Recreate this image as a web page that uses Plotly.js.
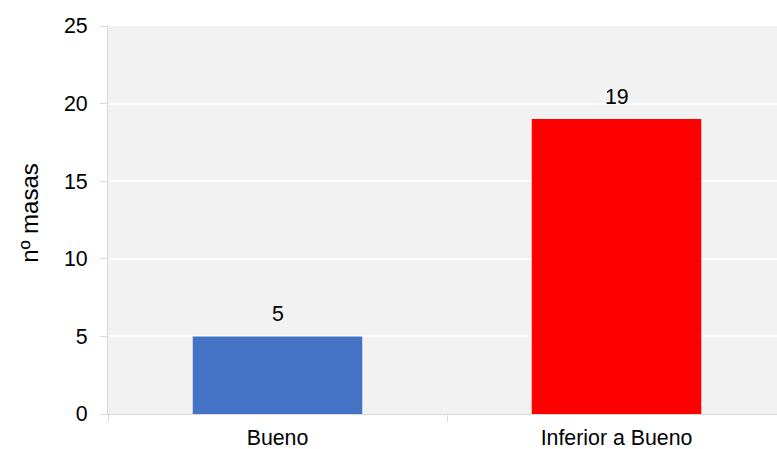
<!DOCTYPE html>
<html><head><meta charset="utf-8">
<script src="https://cdn.plot.ly/plotly-3.0.1.min.js"></script>
<style>html,body{margin:0;padding:0;background:#fff;overflow:hidden}</style>
</head><body>
<div style="width:777px;height:449px;overflow:hidden">
<div id="chart" style="width:786px;height:449px"></div>
</div>
<script>
const categories = ["Bueno", "Inferior a Bueno"];
const values = [5, 19];
const barColors = ["#4472C4", "#FF0000"];
const yTicks = [0, 5, 10, 15, 20, 25];
const yTitle = "nº masas";

const FONT = "Liberation Sans, Arial, sans-serif";

const trace = {
  type: "bar",
  x: categories,
  y: values,
  marker: {color: barColors},
  width: 0.5,
  hoverinfo: "none"
};

const annotations = categories.map((c, i) => ({
  x: c, y: values[i], xref: "x", yref: "y",
  text: String(values[i]), showarrow: false,
  yanchor: "bottom", yshift: 8,
  font: {family: FONT, size: 21.33, color: "#000"}
}));

annotations.push({
  xref: "paper", yref: "paper", x: -0.117, y: 0.5,
  xanchor: "center", yanchor: "middle", yshift: 7,
  text: yTitle, textangle: -90, showarrow: false,
  font: {family: FONT, size: 24, color: "#000"}
});

const layout = {
  width: 786, height: 449,
  margin: {l: 107.5, r: 0, t: 25.5, b: 35},
  paper_bgcolor: "#ffffff",
  plot_bgcolor: "#f2f2f2",
  showlegend: false,
  font: {family: FONT, size: 21.33, color: "#000"},
  xaxis: {
    type: "category",
    showline: true, linecolor: "#d9d9d9", linewidth: 1,
    ticks: "outside", tickson: "boundaries", ticklen: 7, tickcolor: "#d9d9d9",
    showgrid: false,
    tickfont: {size: 21.33},
    ticklabelstandoff: 4
  },
  yaxis: {
    range: [0, 25],
    tickvals: yTicks,
    showline: true, linecolor: "#d9d9d9", linewidth: 1,
    ticks: "outside", ticklen: 7, tickcolor: "#d9d9d9",
    showgrid: true, gridcolor: "#ffffff", gridwidth: 2,
    zeroline: false,
    tickfont: {size: 21.33},
    ticklabelstandoff: 8
  },
  annotations: annotations
};

Plotly.newPlot("chart", [trace], layout, {staticPlot: true, displayModeBar: false});
</script>
</body></html>
